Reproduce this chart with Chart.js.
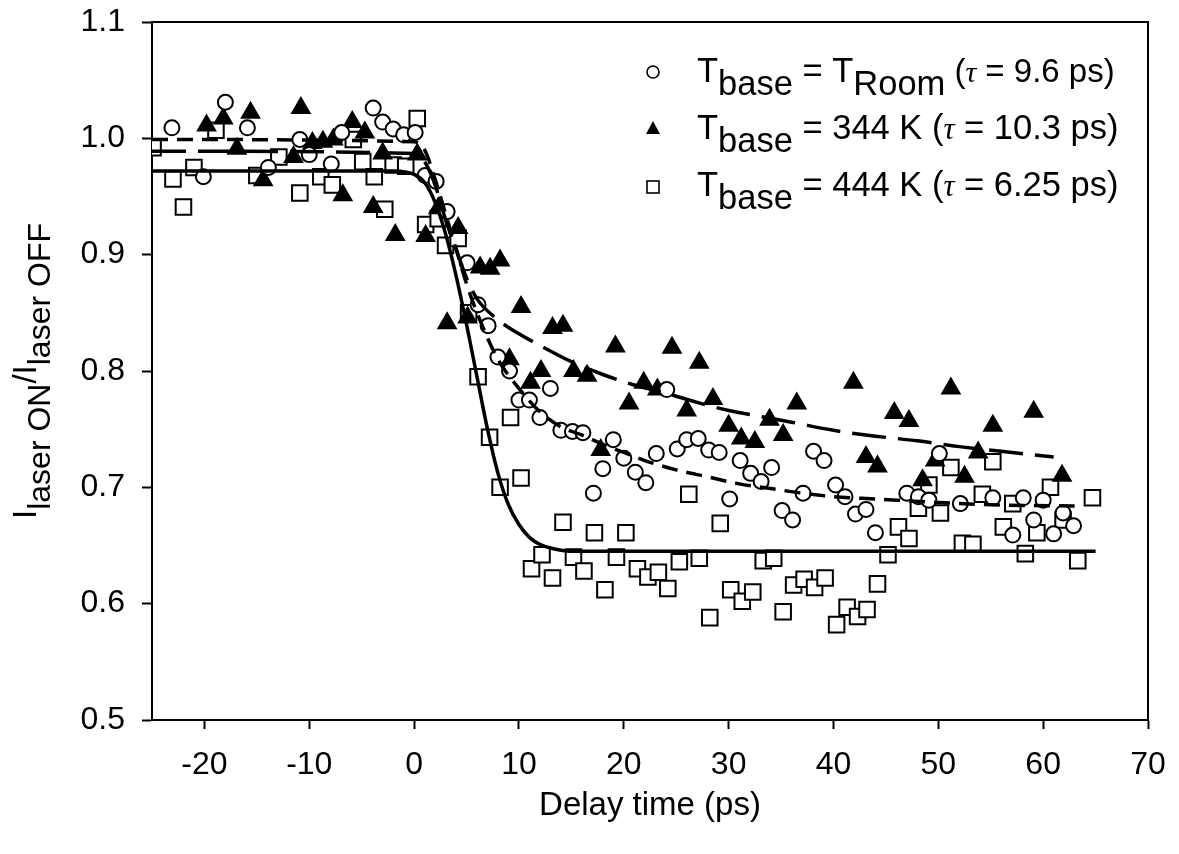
<!DOCTYPE html>
<html>
<head>
<meta charset="utf-8">
<script src="https://cdn.jsdelivr.net/npm/chart.js@4.4.0/dist/chart.umd.min.js"></script>
<style>
  html, body { margin: 0; padding: 0; background: #fff; }
  #wrap { width: 1179px; height: 854px; }
</style>
</head>
<body>
<div id="wrap"><canvas id="chart" width="1179" height="854"></canvas></div>
<script>
// tick labels
const xTicks = [-20, -10, 0, 10, 20, 30, 40, 50, 60, 70];
const yTicks = [0.5, 0.6, 0.7, 0.8, 0.9, 1.0, 1.1];

// T_base = T_Room (circles)
const roomX = [-23.1, -20.1, -18.0, -15.9, -13.9, -10.9, -10.0, -7.9, -6.9, -3.9, -3.0, -2.0, -1.0, 0.1, 1.05, 2.1, 3.15, 5.06, 6.1, 7.06,
  8.0, 9.1, 10.0, 11.0, 12.0, 13.0, 14.0, 15.1, 16.1, 17.1, 18.0, 19.0, 20.0, 21.1, 22.1, 23.1, 24.1, 25.1, 26.0, 27.1,
  28.1, 29.1, 30.1, 31.1, 32.1, 33.1, 34.1, 35.1, 36.1, 37.1, 38.1, 39.1, 40.2, 41.1, 42.1, 43.1, 44.0, 47.0, 48.1, 49.1,
  50.1, 52.1, 55.2, 57.1, 58.1, 59.1, 60.0, 61.0, 61.9, 62.9];
const roomY = [1.009, 0.967, 1.031, 1.009, 0.975, 0.999, 0.986, 0.978, 1.005, 1.026, 1.014, 1.008, 1.003, 1.005, 0.968, 0.963, 0.937, 0.893, 0.857, 0.839,
  0.812, 0.800, 0.775, 0.775, 0.760, 0.785, 0.749, 0.748, 0.747, 0.695, 0.716, 0.741, 0.725, 0.713, 0.704, 0.729, 0.784, 0.733, 0.741, 0.742,
  0.732, 0.730, 0.690, 0.723, 0.712, 0.705, 0.717, 0.680, 0.672, 0.695, 0.731, 0.723, 0.702, 0.692, 0.677, 0.681, 0.661, 0.695, 0.692, 0.689,
  0.729, 0.686, 0.691, 0.659, 0.691, 0.672, 0.689, 0.660, 0.678, 0.667];

// T_base = 344 K (filled triangles)
const k344X = [-19.8, -18.2, -16.9, -15.6, -14.4, -11.5, -10.8, -9.7, -8.7, -7.7, -6.8, -5.9, -4.7, -3.9, -3.0, -1.8, 0.3, 1.1, 2.3, 3.15,
  4.2, 5.1, 6.3, 7.25, 8.2, 9.1, 10.2, 11.1, 12.1, 13.2, 14.2, 15.2, 16.5, 17.8, 19.2, 20.5, 21.9, 23.2, 24.6, 26.0,
  27.2, 28.5, 30.0, 31.2, 32.5, 33.9, 35.2, 36.5, 41.9, 43.1, 44.2, 45.8, 47.2, 48.5, 49.7, 51.2, 52.5, 53.8, 55.2, 59.1, 61.8];
const k344Y = [1.011, 1.017, 0.991, 1.022, 0.964, 0.984, 1.026, 0.996, 0.997, 0.999, 0.951, 1.014, 1.005, 0.941, 0.987, 0.917, 0.986, 0.916, 0.940, 0.841,
  0.923, 0.846, 0.889, 0.888, 0.895, 0.810, 0.855, 0.790, 0.800, 0.837, 0.839, 0.800, 0.796, 0.732, 0.821, 0.772, 0.790, 0.784, 0.820, 0.766,
  0.807, 0.776, 0.753, 0.742, 0.739, 0.758, 0.745, 0.772, 0.790, 0.726, 0.718, 0.764, 0.757, 0.706, 0.723, 0.785, 0.709, 0.730, 0.753, 0.765, 0.710];

// T_base = 444 K (open squares)
const k444X = [-24.9, -23.0, -22.0, -21.0, -18.9, -15.0, -12.9, -10.9, -8.9, -7.8, -5.8, -4.9, -3.8, -2.8, -2.0, -0.8, 0.3, 1.1, 2.3, 3.0,
  4.2, 5.2, 6.1, 7.2, 8.2, 9.2, 10.2, 11.2, 12.2, 13.2, 14.2, 15.2, 16.2, 17.2, 18.2, 19.3, 20.2, 21.3, 22.3, 23.3,
  24.2, 25.3, 26.2, 27.2, 28.2, 29.2, 30.2, 31.3, 32.3, 33.3, 34.3, 35.2, 36.2, 37.2, 38.2, 39.2, 40.3, 41.3, 42.3, 43.2,
  44.2, 45.2, 46.2, 47.2, 48.1, 49.1, 50.2, 51.2, 52.3, 53.3, 54.2, 55.2, 56.2, 57.1, 58.3, 59.4, 60.7, 61.9, 63.3, 64.7];
const k444Y = [0.992, 0.965, 0.941, 0.975, 1.007, 0.968, 0.984, 0.953, 0.967, 0.960, 0.999, 0.980, 0.967, 0.939, 0.977, 0.976, 1.017, 0.926, 0.931, 0.908,
  0.914, 0.850, 0.795, 0.743, 0.700, 0.760, 0.708, 0.630, 0.642, 0.622, 0.670, 0.640, 0.628, 0.661, 0.612, 0.640, 0.661, 0.630, 0.623, 0.627,
  0.613, 0.636, 0.694, 0.639, 0.588, 0.669, 0.612, 0.602, 0.610, 0.637, 0.639, 0.593, 0.616, 0.621, 0.614, 0.622, 0.582, 0.597, 0.589, 0.595,
  0.617, 0.642, 0.666, 0.656, 0.682, 0.702, 0.678, 0.717, 0.652, 0.651, 0.694, 0.722, 0.666, 0.686, 0.643, 0.661, 0.700, 0.672, 0.637, 0.691];

// fitted curves
const fitRoomX = [-25, 0, 1, 2, 3, 4, 5, 6, 8, 10, 12, 14, 16, 18, 20, 22, 25, 28, 31, 34, 37, 40, 44, 50, 55, 63];
const fitRoomY = [0.999, 0.997, 0.99, 0.965, 0.935, 0.905, 0.875, 0.85, 0.81, 0.785, 0.765, 0.752, 0.745, 0.737, 0.730, 0.723, 0.715, 0.709, 0.703, 0.699, 0.695, 0.692, 0.690, 0.687, 0.685, 0.684];
const fit344X = [-25, 0, 1, 2, 3, 4, 5, 6, 8, 10, 12, 15, 18, 21, 24, 27, 30, 33, 36, 40, 44, 48, 52, 56, 61];
const fit344Y = [0.989, 0.987, 0.98, 0.96, 0.93, 0.905, 0.88, 0.862, 0.844, 0.832, 0.822, 0.808, 0.797, 0.788, 0.781, 0.773, 0.766, 0.761, 0.756, 0.749, 0.744, 0.740, 0.735, 0.731, 0.726];
const fit444X = [-25, -2, 0, 1, 2, 3, 4, 5, 6, 7, 8, 9, 10, 11, 12, 14, 16, 65];
const fit444Y = [0.972, 0.972, 0.969, 0.962, 0.945, 0.918, 0.882, 0.84, 0.795, 0.75, 0.712, 0.685, 0.668, 0.657, 0.651, 0.646, 0.645, 0.645];

function pts(xs, ys) {
  return xs.map((x, i) => ({ x: x, y: ys[i] }));
}

const FONT = '"Liberation Sans", Arial, sans-serif';

// draw a run of text pieces along one baseline; dy shifts subscripts down
function drawRuns(ctx, runs, x, y) {
  runs.forEach(r => {
    ctx.font = (r.italic ? 'italic ' : '') + r.size + 'px ' + (r.family || FONT);
    ctx.fillText(r.t, x, y + (r.dy || 0));
    x += ctx.measureText(r.t).width;
  });
  return x;
}
function runsWidth(ctx, runs) {
  let w = 0;
  runs.forEach(r => {
    ctx.font = (r.italic ? 'italic ' : '') + r.size + 'px ' + (r.family || FONT);
    w += ctx.measureText(r.t).width;
  });
  return w;
}

const extras = {
  id: 'extras',
  afterDraw(chart) {
    const ctx = chart.ctx;
    const a = chart.chartArea;
    ctx.save();
    // top and right frame
    ctx.strokeStyle = '#000';
    ctx.lineWidth = 2;
    ctx.beginPath();
    ctx.moveTo(a.left, a.top);
    ctx.lineTo(a.right, a.top);
    ctx.lineTo(a.right, a.bottom);
    ctx.stroke();

    ctx.fillStyle = '#000';
    ctx.textBaseline = 'alphabetic';
    ctx.textAlign = 'left';

    // x title
    ctx.font = '33px ' + FONT;
    ctx.textAlign = 'center';
    ctx.fillText('Delay time (ps)', (a.left + a.right) / 2, 815);
    ctx.textAlign = 'left';

    // y title with subscripts
    const yRuns = [
      { t: 'I', size: 33 },
      { t: 'laser ON', size: 32, dy: 14 },
      { t: '/I', size: 33 },
      { t: 'laser OFF', size: 32, dy: 14 }
    ];
    const w = runsWidth(ctx, yRuns);
    ctx.translate(36, (a.top + a.bottom) / 2);
    ctx.rotate(-Math.PI / 2);
    drawRuns(ctx, yRuns, -w / 2, 0);
    ctx.restore();

    // legend
    ctx.save();
    ctx.fillStyle = '#000';
    ctx.textBaseline = 'alphabetic';
    const tau = { t: '\u03C4', size: 31, italic: true, family: '"Liberation Serif", serif' };
    const tauS = { t: '\u03C4', size: 30, italic: true, family: '"Liberation Serif", serif' };
    const rows = [
      [{ t: 'T', size: 34.5 }, { t: 'base', size: 34.5, dy: 13 }, { t: ' = T', size: 34.5 }, { t: 'Room', size: 34.5, dy: 13 },
        { t: ' (', size: 33 }, tauS, { t: ' = 9.6 ps)', size: 33 }],
      [{ t: 'T', size: 34.5 }, { t: 'base', size: 34.5, dy: 13 }, { t: ' = 344 K (', size: 34.5 }, tau, { t: ' = 10.3 ps)', size: 34.5 }],
      [{ t: 'T', size: 34.5 }, { t: 'base', size: 34.5, dy: 13 }, { t: ' = 444 K (', size: 34.5 }, tau, { t: ' = 6.25 ps)', size: 34.5 }]
    ];
    const rowY = [82, 139, 196];
    rows.forEach((r, i) => drawRuns(ctx, r, 697, rowY[i]));

    // legend markers
    ctx.lineWidth = 1.6;
    ctx.strokeStyle = '#000';
    ctx.beginPath();
    ctx.arc(653, 72, 6, 0, Math.PI * 2);
    ctx.stroke();
    ctx.beginPath();
    ctx.moveTo(653, 121);
    ctx.lineTo(660, 134);
    ctx.lineTo(646, 134);
    ctx.closePath();
    ctx.fill();
    ctx.strokeRect(647, 181, 12, 12);
    ctx.restore();
  }
};

const scatterBase = {
  type: 'scatter',
  showLine: false,
  borderColor: '#000',
  borderWidth: 2,
  pointHoverRadius: 0
};
const curveBase = {
  type: 'line',
  showLine: true,
  borderColor: '#000',
  borderWidth: 3.5,
  pointRadius: 0,
  fill: false,
  cubicInterpolationMode: 'monotone'
};

new Chart(document.getElementById('chart'), {
  type: 'scatter',
  data: {
    datasets: [
      Object.assign({}, curveBase, { data: pts(fit444X, fit444Y) }),
      Object.assign({}, curveBase, { data: pts(fitRoomX, fitRoomY), borderDash: [16, 9] }),
      Object.assign({}, curveBase, { data: pts(fit344X, fit344Y), borderDash: [34, 12] }),
      Object.assign({}, scatterBase, { data: pts(roomX, roomY), pointStyle: 'circle', pointRadius: 7.5, backgroundColor: '#fff' }),
      Object.assign({}, scatterBase, { data: pts(k344X, k344Y), pointStyle: 'triangle', pointRadius: 10, backgroundColor: '#000' }),
      Object.assign({}, scatterBase, { data: pts(k444X, k444Y), pointStyle: 'rect', pointRadius: 11, backgroundColor: '#fff' })
    ]
  },
  options: {
    responsive: false,
    animation: false,
    events: [],
    layout: { padding: { left: 0, right: 31, top: 22, bottom: 0 } },
    plugins: { legend: { display: false }, tooltip: { enabled: false } },
    scales: {
      x: {
        type: 'linear',
        min: -25,
        max: 70,
        afterBuildTicks: s => { s.ticks = xTicks.map(v => ({ value: v })); },
        afterFit: s => { s.height = 854 - 720; s.paddingLeft = 0; s.paddingRight = 0; },
        grid: { drawOnChartArea: false, drawTicks: true, tickLength: 9, tickColor: '#000', tickWidth: 2 },
        border: { display: true, color: '#000', width: 2 },
        ticks: { color: '#000', font: { family: FONT, size: 32 }, padding: 17, maxRotation: 0 }
      },
      y: {
        type: 'linear',
        min: 0.5,
        max: 1.1,
        afterBuildTicks: s => { s.ticks = yTicks.map(v => ({ value: v })); },
        afterFit: s => { s.width = 152; s.paddingTop = 0; s.paddingBottom = 0; },
        grid: { drawOnChartArea: false, drawTicks: true, tickLength: 10, tickColor: '#000', tickWidth: 2 },
        border: { display: true, color: '#000', width: 2 },
        ticks: { color: '#000', font: { family: FONT, size: 32 }, padding: 17, callback: v => v.toFixed(1) }
      }
    }
  },
  plugins: [extras]
});
</script>
</body>
</html>
